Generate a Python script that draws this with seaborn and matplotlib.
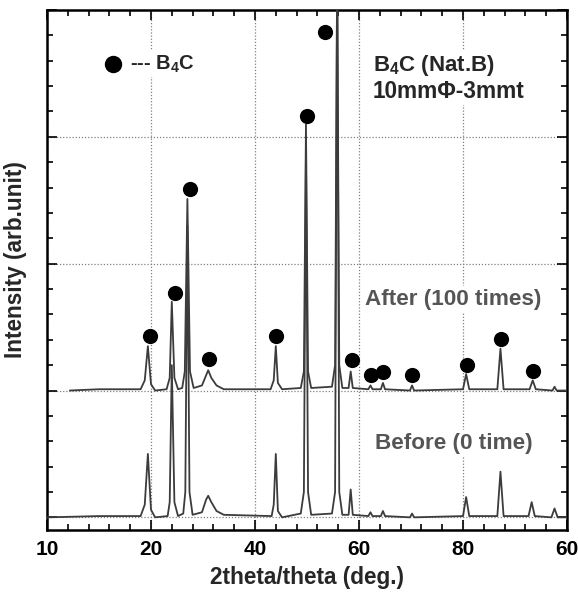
import matplotlib
matplotlib.use('Agg')
import matplotlib.pyplot as plt
from matplotlib.ticker import MultipleLocator
import seaborn as sns
import pandas as pd

# XRD patterns (2theta in deg, intensity in arb. units)
after_theta = [12.2, 15.0, 19.0, 19.4, 19.7, 20.0, 20.4, 21.5, 21.8, 22.0, 22.25, 22.6,
               23.0, 23.25, 23.5, 23.75, 24.1, 24.9, 25.3, 25.5, 25.8, 26.3, 27.0,
               31.5, 31.8, 32.0, 32.2, 32.6, 34.4, 34.7, 34.9, 35.1, 35.4,
               37.4, 37.7, 37.9, 38.1, 38.4, 39.0, 39.2, 39.4,
               40.9, 41.1, 41.3, 42.1, 42.3, 42.5, 44.9, 45.1, 45.3,
               50.0, 50.3, 50.6, 53.3, 53.6, 53.9, 56.4, 56.7, 57.0,
               58.6, 58.8, 59.0, 60.0]
after_int = [1.0, 1.01, 1.01, 1.08, 1.35, 1.05, 1.0, 1.01, 1.1, 1.70, 1.1, 1.01,
             1.02, 1.15, 2.51, 1.15, 1.02, 1.04, 1.12, 1.16, 1.1, 1.04, 1.01,
             1.01, 1.08, 1.35, 1.06, 1.01, 1.02, 1.15, 3.10, 1.15, 1.02,
             1.03, 1.2, 4.3, 1.2, 1.02, 1.02, 1.15, 1.02,
             1.01, 1.04, 1.01, 1.01, 1.06, 1.01, 1.0, 1.04, 1.0,
             1.01, 1.13, 1.01, 1.01, 1.33, 1.01, 1.01, 1.08, 1.01,
             1.0, 1.03, 1.0, 1.0]

before_theta = [10.0, 15.0, 19.0, 19.4, 19.7, 20.0, 20.4, 21.6, 21.8, 22.0, 22.25, 22.6,
                23.1, 23.3, 23.5, 23.7, 24.0, 24.9, 25.3, 25.5, 25.8, 26.3, 27.0,
                31.6, 31.8, 32.0, 32.2, 32.6, 34.4, 34.7, 34.9, 35.1, 35.4,
                37.4, 37.7, 37.9, 38.1, 38.4, 39.0, 39.2, 39.4,
                40.9, 41.1, 41.3, 42.1, 42.3, 42.5, 44.9, 45.1, 45.3,
                50.0, 50.3, 50.6, 53.3, 53.6, 53.9, 56.3, 56.6, 56.9,
                58.5, 58.8, 59.1, 60.0]
before_int = [0.0, 0.01, 0.01, 0.1, 0.5, 0.06, 0.0, 0.01, 0.12, 1.2, 0.12, 0.01,
              0.03, 0.2, 2.3, 0.2, 0.02, 0.04, 0.14, 0.17, 0.12, 0.05, 0.02,
              0.01, 0.1, 0.5, 0.05, 0.0, 0.03, 0.2, 2.9, 0.2, 0.02,
              0.03, 0.2, 4.5, 0.2, 0.02, 0.02, 0.22, 0.02,
              0.01, 0.04, 0.01, 0.01, 0.05, 0.01, 0.0, 0.03, 0.0,
              0.01, 0.16, 0.01, 0.01, 0.36, 0.01, 0.01, 0.12, 0.01,
              0.0, 0.07, 0.0, 0.0]

# B4C peak markers
marker_theta = [19.9, 22.31, 23.75, 25.58, 32.02, 35.0, 36.73, 39.3, 41.13,
                42.34, 45.07, 50.36, 53.63, 56.76]
marker_int = [1.433, 1.772, 2.591, 1.252, 1.433, 3.165, 3.827, 1.242, 1.126,
              1.144, 1.124, 1.205, 1.407, 1.157]

xtick_pos = [10, 20, 30, 40, 50, 60]
xtick_labels = ['10', '20', '40', '60', '80', '60']

sns.set_style('ticks')
plt.rcParams['font.family'] = ['Liberation Sans', 'DejaVu Sans']
plt.rcParams['font.weight'] = 'bold'
plt.rcParams['mathtext.fontset'] = 'custom'
plt.rcParams['mathtext.rm'] = 'Liberation Sans:bold'
plt.rcParams['mathtext.it'] = 'Liberation Sans:bold'
plt.rcParams['mathtext.bf'] = 'Liberation Sans:bold'

after_df = pd.DataFrame({'theta': after_theta, 'intensity': after_int})
before_df = pd.DataFrame({'theta': before_theta, 'intensity': before_int})
marker_df = pd.DataFrame({'theta': marker_theta, 'intensity': marker_int})

fig = plt.figure(figsize=(5.78, 5.94), dpi=100)
ax = fig.add_axes([0.0813, 0.1077, 0.8997, 0.8754])

line_color = '#3c3c3c'
sns.lineplot(data=before_df, x='theta', y='intensity', color=line_color, lw=1.3,
             estimator=None, sort=False, ax=ax, zorder=3)
sns.lineplot(data=after_df, x='theta', y='intensity', color=line_color, lw=1.3,
             estimator=None, sort=False, ax=ax, zorder=3)
sns.scatterplot(data=marker_df, x='theta', y='intensity', color='black', s=120,
                edgecolor='black', linewidth=0, ax=ax, zorder=4)

# legend-like marker
ax.plot([16.35], [3.575], 'o', color='black', ms=11.5, zorder=4)
box = dict(facecolor='white', edgecolor='none', pad=2)
ax.text(17.98, 3.575, '--- B$_4$C', fontsize=14.5, fontweight='bold', va='center',
        ha='left', bbox=box, zorder=2.5)
ax.text(41.35, 3.56, 'B$_4$C (Nat.B)', fontsize=16, fontweight='bold', va='center',
        ha='left', bbox=box, zorder=2.5)
ax.text(41.35, 3.36, '10mmΦ-3mmt', fontsize=16.3, fontweight='bold', va='center',
        ha='left', bbox=box, zorder=2.5)
ax.text(49.05, 1.717, 'After (100 times)', fontsize=16.2, fontweight='bold',
        color='#555555', va='center', ha='center', bbox=box, zorder=2.5)
ax.text(49.1, 0.583, 'Before (0 time)', fontsize=16.2, fontweight='bold',
        color='#555555', va='center', ha='center', bbox=box, zorder=2.5)

ax.set_xlim(10, 60)
ax.set_ylim(-0.1, 4.0)
ax.set_xticks(xtick_pos)
ax.set_xticklabels(xtick_labels)
ax.xaxis.set_minor_locator(MultipleLocator(2))
ax.yaxis.set_major_locator(MultipleLocator(1))
ax.yaxis.set_minor_locator(MultipleLocator(0.2))
ax.set_yticklabels([])

ax.grid(True, which='major', ls=(0, (1, 1.5)), color='#808080', lw=0.9, zorder=1)
ax.set_axisbelow(True)
ax.tick_params(which='both', direction='in', top=True, right=True, width=1.2,
               colors='black', labelsize=15, pad=7)
ax.tick_params(which='major', length=7)
ax.tick_params(which='minor', length=4)
for lab in ax.get_xticklabels():
    lab.set_fontweight('bold')
for sp in ax.spines.values():
    sp.set_linewidth(1.8)
    sp.set_color('black')

ax.set_xlabel('2theta/theta (deg.)', fontsize=16.3, fontweight='bold', labelpad=5)
ax.set_ylabel('Intensity (arb.unit)', fontsize=16.3, fontweight='bold')
ax.yaxis.set_label_coords(-0.038, 0.521)

fig.savefig('out.png', dpi=100)
